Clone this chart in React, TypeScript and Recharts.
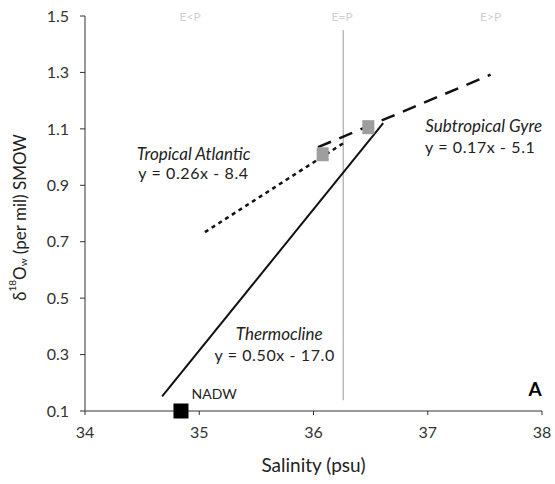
import React from 'react';
import {
  ComposedChart, Line, Scatter, XAxis, YAxis, ReferenceLine, ReferenceDot,
} from 'recharts';

// Regression lines (salinity, δ18O)
const thermoX = [34.675, 36.61];
const thermoY = [0.152, 1.12];
const tropicalX = [35.05, 36.28];
const tropicalY = [0.734, 1.054];
const subtropX = [36.04, 37.55];
const subtropY = [1.035, 1.292];

// End-member points
const nadwX = [34.84];
const nadwY = [0.1];
const greyX = [36.08, 36.48];
const greyY = [1.01, 1.106];

const xTicks = [34, 35, 36, 37, 38];
const yTicks = [0.1, 0.3, 0.5, 0.7, 0.9, 1.1, 1.3, 1.5];
const eqPSalinity = 36.26;
const regimeLabels = ['E<P', 'E=P', 'E>P'];
const regimeX = [34.92, 36.25, 37.55];

const zip = (xs: number[], ys: number[]) => xs.map((x, i) => ({ x, y: ys[i] }));

const thermo = zip(thermoX, thermoY);
const tropical = zip(tropicalX, tropicalY);
const subtrop = zip(subtropX, subtropY);
const nadw = zip(nadwX, nadwY);
const grey = zip(greyX, greyY);

const FONT = 'Lato, "Open Sans", sans-serif';

const textLabel = (text: string, opts: any) => (props: any) => {
  const { viewBox } = props;
  const cx = viewBox.x + (viewBox.width || 0) / 2;
  const cy = viewBox.y + (viewBox.height || 0) / 2;
  return (
    <text
      x={cx}
      y={cy}
      textAnchor="middle"
      dominantBaseline="central"
      fontFamily={FONT}
      fontSize={opts.size || 16}
      fontStyle={opts.italic ? 'italic' : 'normal'}
      fontWeight={opts.bold ? 'bold' : 'normal'}
      fill={opts.fill || '#222'}
      letterSpacing={opts.ls || 0}
    >
      {text}
    </text>
  );
};

// annotation anchors in data units
const annotations = [
  { x: 34.95, y: 1.014, text: 'Tropical Atlantic', italic: true, size: 17 },
  { x: 34.95, y: 0.947, text: 'y = 0.26x - 8.4', size: 16, ls: 0.6 },
  { x: 37.49, y: 1.113, text: 'Subtropical Gyre', italic: true, size: 17 },
  { x: 37.46, y: 1.039, text: 'y = 0.17x - 5.1', size: 16, ls: 0.6 },
  { x: 35.7, y: 0.376, text: 'Thermocline', italic: true, size: 17 },
  { x: 35.66, y: 0.301, text: 'y = 0.50x - 17.0', size: 16, ls: 0.6 },
  { x: 35.13, y: 0.163, text: 'NADW', size: 14 },
  { x: 37.94, y: 0.181, text: 'A', bold: true, size: 19, fill: '#000' },
];

const SquareShape = (fill: string, w: number, h: number) => (props: any) => {
  const { cx, cy } = props;
  return <rect x={cx - w / 2} y={cy - h / 2} width={w} height={h} fill={fill} />;
};

const YLabel = (props: any) => {
  const { viewBox } = props;
  const cx = viewBox.x + 19;
  const cy = viewBox.y + viewBox.height / 2 + 4;
  return (
    <text
      transform={`translate(${cx},${cy}) rotate(-90)`}
      textAnchor="middle"
      dominantBaseline="central"
      fontFamily={FONT}
      fontSize={17}
      fill="#222"
    >
      <tspan>δ</tspan>
      <tspan fontSize={10} dy={-7}>18</tspan>
      <tspan dy={7}>O</tspan>
      <tspan fontSize={10} dy={4}>w</tspan>
      <tspan dy={-4}> (per mil) SMOW</tspan>
    </text>
  );
};

export default function App() {
  return (
    <div style={{ position: 'absolute', left: 0, top: 0, background: '#fff' }}>
      <ComposedChart
        width={555}
        height={484}
        margin={{ top: 16, right: 13, left: 0, bottom: 0 }}
      >
        <XAxis
          type="number"
          dataKey="x"
          domain={[34, 38]}
          ticks={xTicks}
          height={73}
          stroke="#333"
          tickSize={4}
          tickMargin={12}
          tick={{ fontFamily: FONT, fontSize: 16, fill: '#333' }}
          label={{
            value: 'Salinity (psu)',
            position: 'insideBottom',
            offset: 12,
            style: { fontFamily: FONT, fontSize: 19, fill: '#222' },
          }}
        />
        <YAxis
          type="number"
          dataKey="y"
          domain={[0.1, 1.5]}
          ticks={yTicks}
          width={85}
          stroke="#333"
          tickSize={5}
          tickMargin={11}
          tickFormatter={(v: number) => v.toFixed(1)}
          tick={{ fontFamily: FONT, fontSize: 16, fill: '#333' }}
          label={<YLabel />}
        />
        <ReferenceLine
          segment={[{ x: eqPSalinity, y: 0.138 }, { x: eqPSalinity, y: 1.45 }]}
          stroke="#999"
          strokeWidth={1}
        />
        {regimeLabels.map((t, i) => (
          <ReferenceDot
            key={t}
            x={regimeX[i]}
            y={1.5}
            r={0}
            fill="none"
            stroke="none"
            label={textLabel(t, { size: 12, fill: '#d0d0d0' })}
          />
        ))}
        <Line
          data={thermo}
          dataKey="y"
          stroke="#111"
          strokeWidth={2}
          dot={false}
          isAnimationActive={false}
        />
        <Line
          data={tropical}
          dataKey="y"
          stroke="#111"
          strokeWidth={2.5}
          strokeDasharray="4 4"
          dot={false}
          isAnimationActive={false}
        />
        <Line
          data={subtrop}
          dataKey="y"
          stroke="#111"
          strokeWidth={2.5}
          strokeDasharray="14 9"
          dot={false}
          isAnimationActive={false}
        />
        <Scatter
          data={grey}
          shape={SquareShape('#9e9e9e', 12, 14)}
          isAnimationActive={false}
        />
        <Scatter
          data={nadw}
          shape={SquareShape('#000', 15, 15)}
          isAnimationActive={false}
        />
        {annotations.map((a) => (
          <ReferenceDot
            key={a.text}
            x={a.x}
            y={a.y}
            r={0}
            fill="none"
            stroke="none"
            label={textLabel(a.text, a)}
          />
        ))}
      </ComposedChart>
    </div>
  );
}
